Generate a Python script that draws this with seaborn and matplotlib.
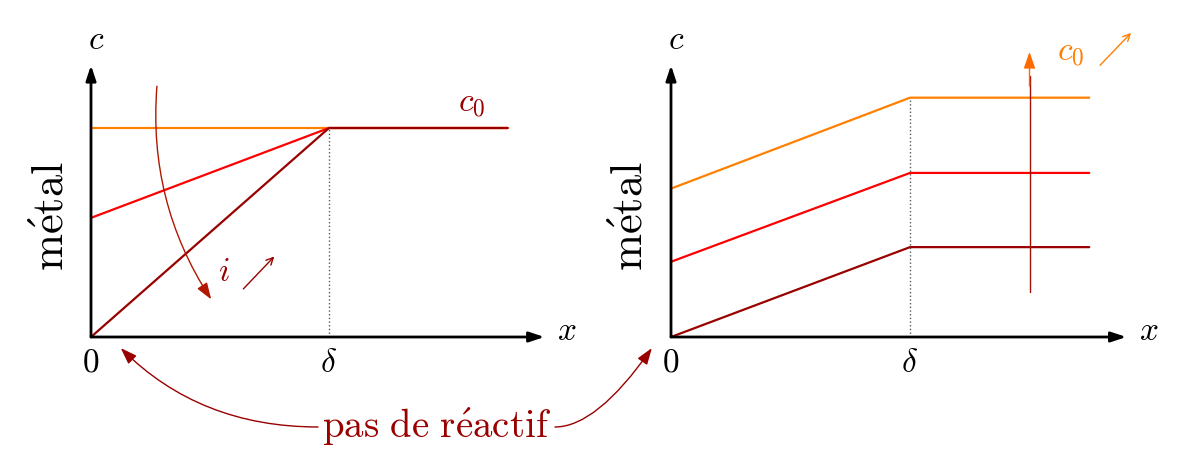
import pandas as pd
import matplotlib.pyplot as plt
import seaborn as sns

sns.set_style('white')
plt.rcParams['mathtext.fontset'] = 'cm'
plt.rcParams['font.family'] = ['DejaVu Serif']
plt.rcParams['text.color'] = 'black'

# x positions: wall (0), end of diffusion layer (delta = 1), far bulk
x_pos = [0, 1, 1.75]

# left panel: c0 fixed, current i grows -> surface concentration drops
left_names = ['i = 0', 'i moyen', 'i limite']
left_values = [[1.0, 1.0, 1.0],
               [0.57, 1.0, 1.0],
               [0.0, 1.0, 1.0]]

# right panel: limiting current, c0 grows
right_names = ['c0 faible', 'c0 moyen', 'c0 fort']
right_values = [[0.0, 0.43, 0.43],
                [0.36, 0.785, 0.785],
                [0.71, 1.145, 1.145]]

ORANGE = '#ff8000'
RED = '#ff0000'
DARK = '#990000'

left_palette = {'i = 0': ORANGE, 'i moyen': RED, 'i limite': DARK}
right_palette = {'c0 faible': DARK, 'c0 moyen': RED, 'c0 fort': ORANGE}


def to_frame(names, values):
    rows = []
    for name, vals in zip(names, values):
        for x, c in zip(x_pos, vals):
            rows.append({'x': x, 'c': c, 'courbe': name})
    return pd.DataFrame(rows)


def draw_axes(ax, x_unit, delta_top):
    ax.set_xlim(0, 460 / x_unit)
    ax.set_ylim(0, 280 / 209)
    for s in ax.spines.values():
        s.set_visible(False)
    ax.set_xticks([0, 1], ['$0$', r'$\delta$'], fontsize=24)
    ax.set_yticks([])
    ax.tick_params(axis='x', length=0, pad=7, labelcolor='black')
    ax.set_xlabel('')
    ax.set_ylabel('')
    head = dict(arrowstyle='-|>,head_length=0.9,head_width=0.3',
                lw=2, color='black', shrinkA=0, shrinkB=0)
    ax.annotate('', xy=(1.905, 0), xytext=(0, 0), arrowprops=head,
                annotation_clip=False)
    ax.annotate('', xy=(0, 1.30), xytext=(0, 0), arrowprops=head,
                annotation_clip=False)
    ax.plot([1, 1], [0, delta_top], ls=':', color='0.35', lw=1,
            clip_on=False)
    ax.text(0.02, 1.42, '$c$', fontsize=24, ha='center', va='center')
    ax.text(2.0, 0.03, '$x$', fontsize=24, ha='center', va='center')
    ax.text(-0.17, 0.58, r'$\mathrm{m\acute{e}tal}$', fontsize=32,
            rotation=90, ha='center', va='center')


fig = plt.figure(figsize=(11.83, 4.59), dpi=100)
ax1 = fig.add_axes([91 / 1183, 122 / 459, 460 / 1183, 280 / 459])
ax2 = fig.add_axes([671 / 1183, 122 / 459, 460 / 1183, 280 / 459])

sns.lineplot(data=to_frame(left_names, left_values), x='x', y='c',
             hue='courbe', palette=left_palette, legend=False, lw=1.6,
             ax=ax1, clip_on=False)
sns.lineplot(data=to_frame(right_names, right_values), x='x', y='c',
             hue='courbe', palette=right_palette, legend=False, lw=1.6,
             ax=ax2, clip_on=False)

draw_axes(ax1, 238, 1.0)
draw_axes(ax2, 239, 1.145)

# left panel annotations
ax1.annotate('', xy=(0.505, 0.18), xytext=(0.277, 1.20),
             arrowprops=dict(arrowstyle='-|>,head_length=1.0,head_width=0.35',
                             lw=1, color='#b01800',
                             connectionstyle='arc3,rad=0.17',
                             shrinkA=0, shrinkB=0),
             annotation_clip=False)
ax1.text(0.56, 0.31, '$i$', fontsize=24, color=DARK, ha='center',
         va='center')
ax1.annotate('', xy=(0.77, 0.385), xytext=(0.64, 0.23),
             arrowprops=dict(arrowstyle='->,head_length=0.5,head_width=0.25',
                             lw=1, color=DARK, shrinkA=0, shrinkB=0),
             annotation_clip=False)
ax1.text(1.6, 1.12, '$c_0$', fontsize=24, color=DARK, ha='center',
         va='center')

# right panel annotations
ax2.plot([1.5, 1.5], [0.215, 1.25], color='#a01000', lw=1, clip_on=False)
ax2.annotate('', xy=(1.5, 1.364), xytext=(1.5, 1.2),
             arrowprops=dict(arrowstyle='-|>,head_length=1.0,head_width=0.35',
                             lw=1, color='#ff6a00', shrinkA=0, shrinkB=0),
             annotation_clip=False)
ax2.text(1.67, 1.364, '$c_0$', fontsize=24, color='#ff7f00', ha='center',
         va='center')
ax2.annotate('', xy=(1.925, 1.455), xytext=(1.795, 1.30),
             arrowprops=dict(arrowstyle='->,head_length=0.5,head_width=0.25',
                             lw=1, color='#ff7f00', shrinkA=0, shrinkB=0),
             annotation_clip=False)

# common label between panels
fig.text(437 / 1183, 1 - 427 / 459, r'$\mathrm{pas\ de\ r\acute{e}actif}$',
         fontsize=28, color=DARK, ha='center', va='center')
curve = dict(arrowstyle='-|>,head_length=1.0,head_width=0.35', lw=1,
             color=DARK, shrinkA=0, shrinkB=0)
ax1.annotate('', xy=(0.125, -0.053), xytext=(318 / 1183, 1 - 427 / 459),
             textcoords='figure fraction',
             arrowprops=dict(curve, connectionstyle='angle3,angleA=0,angleB=-45'),
             annotation_clip=False)
ax2.annotate('', xy=(-0.08, -0.053), xytext=(555 / 1183, 1 - 427 / 459),
             textcoords='figure fraction',
             arrowprops=dict(curve, connectionstyle='angle3,angleA=0,angleB=55'),
             annotation_clip=False)

fig.savefig('out.png', dpi=100)
